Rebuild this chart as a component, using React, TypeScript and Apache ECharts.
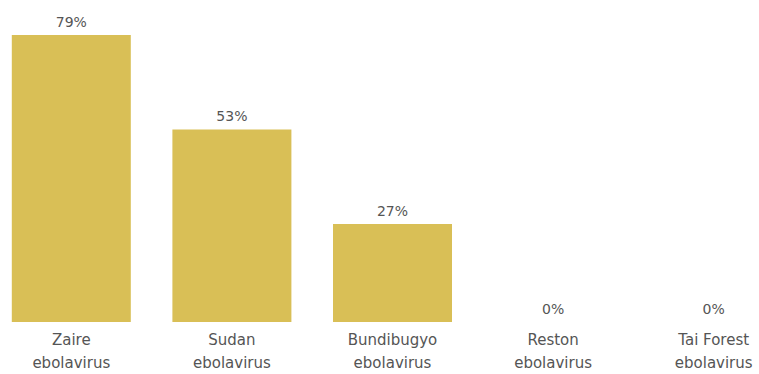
import React, { useEffect, useRef } from "react";
import * as echarts from "echarts";

const categories = [
  "Zaire\nebolavirus",
  "Sudan\nebolavirus",
  "Bundibugyo\nebolavirus",
  "Reston\nebolavirus",
  "Tai Forest\nebolavirus",
];
const values = [79, 53, 27, 0, 0];

export default function App() {
  const ref = useRef<HTMLDivElement>(null);
  useEffect(() => {
    if (!ref.current) return;
    const chart = echarts.init(ref.current, null, { renderer: "svg" });
    chart.setOption({
      animation: false,
      backgroundColor: "#ffffff",
      grid: { left: 0, right: 0, top: 35, bottom: 46, containLabel: false },
      xAxis: {
        type: "category",
        data: categories,
        axisLine: { show: false },
        axisTick: { show: false },
        axisLabel: {
          color: "#555555",
          fontFamily: "DejaVu Sans",
          fontSize: 15,
          lineHeight: 23,
          margin: 6,
          interval: 0,
        },
      },
      yAxis: {
        type: "value",
        min: 0,
        max: 79,
        show: false,
        splitLine: { show: false },
      },
      series: [
        {
          type: "bar",
          data: values,
          barWidth: 119,
          itemStyle: { color: "#D9BF56" },
          label: {
            show: true,
            position: "top",
            distance: 6,
            formatter: "{c}%",
            color: "#555555",
            fontFamily: "DejaVu Sans",
            fontSize: 14,
          },
        },
      ],
    });
    return () => chart.dispose();
  }, []);
  return (
    <div style={{ position: "fixed", left: 0, top: 0, width: 759, height: 374, overflow: "hidden", background: "#fff" }}>
      <div
        ref={ref}
        style={{ position: "absolute", left: -9, top: 0, width: 803, height: 374 }}
      />
    </div>
  );
}
